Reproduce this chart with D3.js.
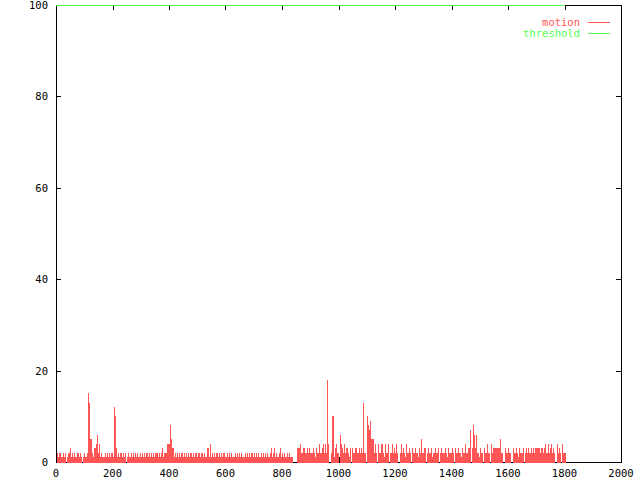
<!DOCTYPE html>
<meta charset="utf-8">
<style>
body { margin: 0; background: #fff; }
text { font: 10.5px "DejaVu Sans Mono", monospace; }
</style>
<svg width="640" height="480"></svg>
<script src="https://d3js.org/d3.v7.min.js"></script>
<script>

// motion per frame, sampled every 4 frames (frame 0 .. 1800)
var frameStep = 4;
var motion = [
  1,2,1,2,1,1,2,1,2,0,1,2,3,1,2,1,2,1,1,2,1,2,1,0,1,
  2,1,2,15,13,5,5,2,1,3,4,6,2,4,1,2,1,1,2,1,2,1,2,1,2,
  1,12,10,3,1,2,1,2,1,2,1,2,0,1,2,1,2,1,2,1,2,1,2,1,2,
  1,2,1,2,1,2,1,2,1,2,1,2,1,2,2,1,2,1,2,3,1,2,2,4,4,
  4,8,5,3,1,2,1,2,1,2,1,2,1,2,1,2,1,2,1,2,1,2,1,2,2,
  1,2,1,2,2,1,2,1,1,3,1,4,1,2,1,2,1,2,1,2,1,2,1,2,2,
  1,2,1,2,1,2,1,1,2,1,2,1,2,1,2,1,1,2,1,2,1,2,1,2,1,
  2,1,2,1,2,1,2,1,2,1,2,1,2,1,2,3,1,2,3,1,2,1,2,3,1,
  2,1,2,1,2,1,2,1,1,1,0,0,0,3,3,3,4,2,2,3,2,2,3,2,3,
  2,2,3,2,1,3,2,2,4,2,3,4,2,4,2,18,4,0,2,10,10,1,3,4,2,
  0,6,4,3,2,4,2,3,2,1,3,0,3,2,2,3,2,2,3,2,3,2,13,2,0,
  10,8,7,9,5,5,2,4,2,0,4,2,2,4,2,1,4,2,2,4,0,2,4,2,3,
  2,4,2,0,2,4,2,3,2,1,4,2,3,2,0,3,2,2,3,2,1,3,2,5,2,
  2,3,0,2,3,2,2,3,1,2,3,2,2,3,0,2,3,2,2,3,2,1,3,2,2,
  3,2,0,3,2,2,3,2,1,3,2,2,4,2,2,3,7,0,3,8,6,3,6,2,1,
  3,2,2,0,3,2,4,2,2,0,4,2,3,3,3,3,3,3,5,2,2,0,3,2,2,
  3,2,2,0,3,2,2,3,2,1,3,2,2,3,0,2,3,2,3,2,3,2,3,2,3,
  3,3,3,2,3,3,2,3,4,2,4,2,3,4,2,3,2,0,4,2,3,2,0,4,2,
  2
];
// threshold held constant over the same frames
var thresholdFrames = [0, 1800];
var thresholdValues = [100, 100];

var xTicks = [0, 200, 400, 600, 800, 1000, 1200, 1400, 1600, 1800, 2000];
var yTicks = [0, 20, 40, 60, 80, 100];

var svg = d3.select("svg"),
    plotLeft = 56, plotRight = 621, plotTop = 5, plotBottom = 462,
    tickLen = 5;

var x = d3.scaleLinear().domain([0, 2000]).range([plotLeft, plotRight]);
var y = d3.scaleLinear().domain([0, 100]).range([plotBottom, plotTop]);

var motionColor = "#ff5555",
    thresholdColor = "#55ff55";

var data = motion.map(function(v, i) { return {frame: i * frameStep, value: v}; });

// border
svg.append("rect")
    .attr("x", plotLeft + 0.5)
    .attr("y", plotTop + 0.5)
    .attr("width", plotRight - plotLeft)
    .attr("height", plotBottom - plotTop)
    .attr("fill", "none")
    .attr("stroke", "#000")
    .attr("shape-rendering", "crispEdges");

// ticks
var ticks = svg.append("g").attr("stroke", "#000").attr("shape-rendering", "crispEdges");

xTicks.forEach(function(t) {
  var px = Math.round(x(t)) + 0.5;
  ticks.append("line").attr("x1", px).attr("x2", px).attr("y1", plotBottom).attr("y2", plotBottom - tickLen);
  ticks.append("line").attr("x1", px).attr("x2", px).attr("y1", plotTop).attr("y2", plotTop + tickLen);
});
yTicks.forEach(function(t) {
  var py = Math.round(y(t)) + 0.5;
  ticks.append("line").attr("x1", plotLeft).attr("x2", plotLeft + tickLen).attr("y1", py).attr("y2", py);
  ticks.append("line").attr("x1", plotRight).attr("x2", plotRight - tickLen).attr("y1", py).attr("y2", py);
});

// impulses, drawn over the bottom axis like gnuplot does
svg.append("g")
    .attr("shape-rendering", "crispEdges")
  .selectAll("rect")
  .data(data.filter(function(d) { return d.value > 0; }))
  .enter().append("rect")
    .attr("x", function(d) { return Math.max(plotLeft + 1, Math.round(x(d.frame))); })
    .attr("width", function(d) { return Math.max(1, Math.round(x(d.frame + frameStep)) - Math.max(plotLeft + 1, Math.round(x(d.frame)))); })
    .attr("y", function(d) { return Math.round(y(d.value)); })
    .attr("height", function(d) { return plotBottom + 1 - Math.round(y(d.value)); })
    .attr("fill", motionColor);

svg.append("g").selectAll("text")
  .data(xTicks)
  .enter().append("text")
    .attr("x", function(d) { return x(d); })
    .attr("y", 477)
    .attr("text-anchor", "middle")
    .text(function(d) { return d; });

svg.append("g").selectAll("text")
  .data(yTicks)
  .enter().append("text")
    .attr("x", 48)
    .attr("y", function(d) { return y(d) + 4; })
    .attr("text-anchor", "end")
    .text(function(d) { return d; });

// threshold line (sits on the top border)
svg.append("path")
    .datum(d3.zip(thresholdFrames, thresholdValues))
    .attr("fill", "none")
    .attr("stroke", thresholdColor)
    .attr("stroke-width", 1)
    .attr("shape-rendering", "crispEdges")
    .attr("d", d3.line()
        .x(function(d) { return x(d[0]); })
        .y(function(d) { return Math.round(y(d[1])) + 0.5; }));

// legend
var legend = [{name: "motion", color: motionColor}, {name: "threshold", color: thresholdColor}];
var lg = svg.append("g").selectAll("g")
  .data(legend)
  .enter().append("g")
    .attr("transform", function(d, i) { return "translate(0," + (22 + i * 11) + ")"; });

lg.append("text")
    .attr("x", 580)
    .attr("y", 4)
    .attr("text-anchor", "end")
    .attr("fill", function(d) { return d.color; })
    .text(function(d) { return d.name; });

lg.append("line")
    .attr("x1", 588)
    .attr("x2", 610)
    .attr("y1", 0.5)
    .attr("y2", 0.5)
    .attr("stroke", function(d) { return d.color; })
    .attr("shape-rendering", "crispEdges");

</script>
